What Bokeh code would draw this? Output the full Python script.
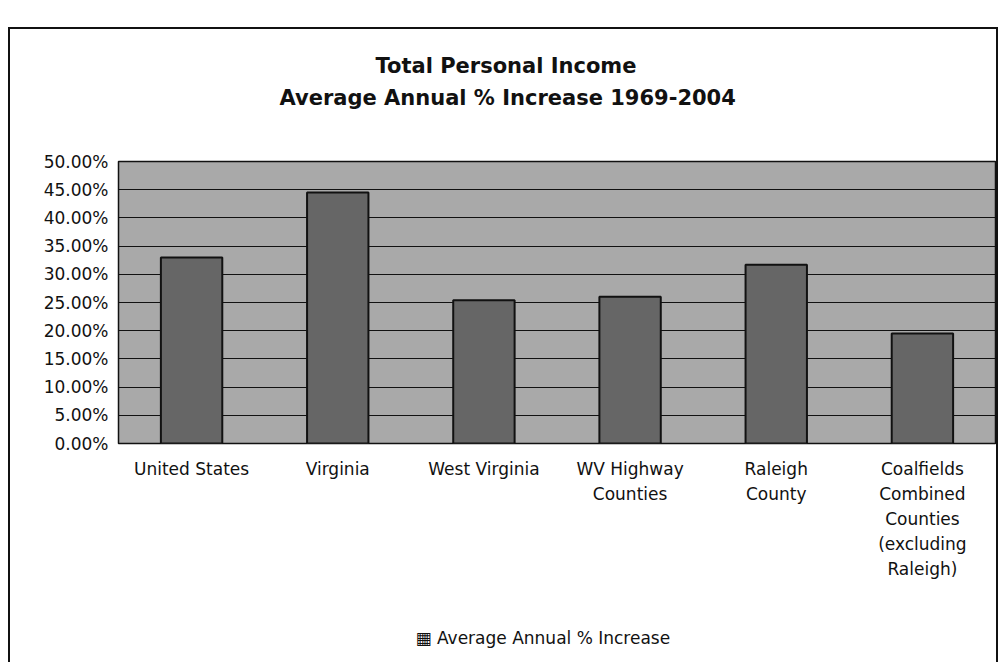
import json
from bokeh.plotting import figure
from bokeh.models import (ColumnDataSource, NumeralTickFormatter, FixedTicker,
                          Title, Range1d, CategoricalAxis, CustomJSTickFormatter)
from bokeh.embed import file_html
from bokeh.resources import INLINE

categories = ["United States", "Virginia", "West Virginia", "WV Highway Counties",
              "Raleigh County", "Coalfields Combined Counties (excluding Raleigh)"]
label_lines = [["United States"], ["Virginia"], ["West Virginia"], ["WV Highway", "Counties"],
               ["Raleigh", "County"], ["Coalfields", "Combined", "Counties", "(excluding", "Raleigh)"]]
values = [0.330, 0.445, 0.254, 0.260, 0.317, 0.195]
y_ticks = [0.0, 0.05, 0.10, 0.15, 0.20, 0.25, 0.30, 0.35, 0.40, 0.45, 0.50]
series_name = "Average Annual % Increase"
title_lines = ["Total Personal Income", "Average Annual % Increase 1969-2004"]

FONT = "DejaVu Sans"
INK = "#111111"

src = ColumnDataSource(dict(cat=categories, val=values))

p = figure(x_range=categories, y_range=Range1d(0, 0.5), width=1000, height=662,
           output_backend="svg", toolbar_location=None, x_axis_location=None,
           min_border_left=118, min_border_right=5, min_border_top=0, min_border_bottom=219)
p.background_fill_color = "#a9a9a9"
p.border_fill_alpha = 0
p.outline_line_color = INK
p.outline_line_width = 1.5

r = p.vbar(x="cat", top="val", width=0.42, source=src,
           fill_color="#666666", line_color=INK, line_width=2,
           legend_label=series_name)
p.legend.visible = False  # legend key is drawn as a caption below the labels

# titles (stacked outward from the plot frame)
spacer_bottom = Title(text=" ", text_font_size="2px", standoff=46)
t2 = Title(text=title_lines[1], align="left", offset=161, text_font=FONT,
           text_font_size="21px", text_font_style="bold", text_color=INK, standoff=4)
t1 = Title(text=title_lines[0], align="left", offset=257, text_font=FONT,
           text_font_size="21px", text_font_style="bold", text_color=INK, standoff=8)
spacer_top = Title(text=" ", text_font_size="2px", standoff=43)
for t in (spacer_bottom, t2, t1, spacer_top):
    p.add_layout(t, "above")

# y axis
p.yaxis.ticker = FixedTicker(ticks=y_ticks)
p.yaxis.formatter = NumeralTickFormatter(format="0.00%")
p.yaxis.major_label_text_font = FONT
p.yaxis.major_label_text_font_size = "17px"
p.yaxis.major_label_text_color = INK
p.yaxis.axis_line_color = None
p.yaxis.major_tick_line_color = None
p.yaxis.minor_tick_line_color = None
p.yaxis.major_tick_out = 0
p.yaxis.major_tick_in = 0
p.yaxis.major_label_standoff = 10

# category labels: one axis per text line
n_lines = max(len(l) for l in label_lines)
for i in range(n_lines):
    mapping = {c: (l[i] if i < len(l) else "") for c, l in zip(categories, label_lines)}
    ax = CategoricalAxis()
    ax.formatter = CustomJSTickFormatter(
        code="const m = " + json.dumps(mapping) + "; return (tick in m) ? m[tick] : '';")
    ax.major_label_text_font = FONT
    ax.major_label_text_font_size = "17px"
    ax.major_label_text_color = INK
    ax.axis_line_color = None
    ax.major_tick_line_color = None
    ax.major_tick_out = 0
    ax.major_tick_in = 0
    ax.major_label_standoff = 15 if i == 0 else 2
    p.add_layout(ax, "below")

p.xgrid.grid_line_color = None
p.ygrid.ticker = FixedTicker(ticks=y_ticks)
p.ygrid.grid_line_color = INK
p.ygrid.grid_line_width = 1

# legend key line below the category labels
legend_spacer = Title(text=" ", text_font_size="2px", standoff=38)
legend_key = Title(text="\u25A6 " + series_name, align="left", offset=297,
                   text_font=FONT, text_font_size="17px", text_font_style="normal",
                   text_color=INK, standoff=4)
p.add_layout(legend_spacer, "below")
p.add_layout(legend_key, "below")

# outer chart frame drawn as the page element's background lines
p.styles = {
    "background-color": "white",
    "background-image": "linear-gradient(#111,#111), linear-gradient(#111,#111), linear-gradient(#111,#111)",
    "background-size": "990px 2px, 2px 100%, 2px 100%",
    "background-position": "8px 27px, 8px 27px, 996px 27px",
    "background-repeat": "no-repeat",
}

open("out.html", "w").write(file_html(p, INLINE))
